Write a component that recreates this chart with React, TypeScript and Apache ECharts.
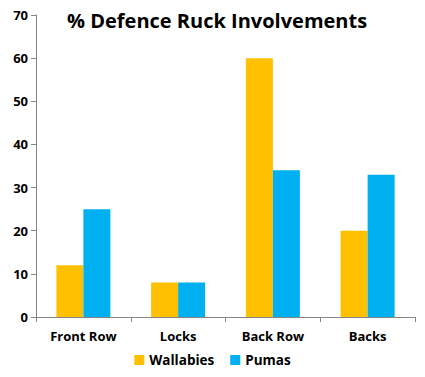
import React, { useEffect, useRef } from "react";
import * as echarts from "echarts";

const categories = ["Front Row", "Locks", "Back Row", "Backs"];
const wallabies = [12, 8, 60, 20];
const pumas = [25, 8, 34, 33];
const yTicks = { min: 0, max: 70, interval: 10 };

export default function App() {
  const ref = useRef<HTMLDivElement>(null);
  useEffect(() => {
    const chart = echarts.init(ref.current!, null, { renderer: "svg" });
    const font = "'Open Sans', 'Noto Sans', sans-serif";
    chart.setOption({
      animation: false,
      backgroundColor: "#fff",
      title: {
        text: "% Defence Ruck Involvements",
        left: 62,
        top: 5,
        textStyle: { fontFamily: font, fontWeight: "bold", fontSize: 20, color: "#000" },
      },
      legend: {
        bottom: 5,
        left: "center",
        itemWidth: 10,
        itemHeight: 10,
        itemGap: 16,
        icon: "rect",
        textStyle: { fontFamily: font, fontWeight: "bold", fontSize: 13.5, color: "#000" },
        data: ["Wallabies", "Pumas"],
      },
      grid: { left: 36, right: 10, top: 15, bottom: 60, containLabel: false },
      xAxis: {
        type: "category",
        data: categories,
        axisLine: { lineStyle: { color: "#868686" } },
        axisTick: { show: true, alignWithLabel: false, length: 5, inside: false, lineStyle: { color: "#868686" } },
        axisLabel: { fontFamily: font, fontWeight: "bold", fontSize: 13, color: "#000", margin: 12 },
      },
      yAxis: {
        type: "value",
        min: yTicks.min,
        max: yTicks.max,
        interval: yTicks.interval,
        axisLine: { show: true, lineStyle: { color: "#868686" } },
        axisTick: { show: true, length: 5, lineStyle: { color: "#868686" } },
        splitLine: { show: false },
        axisLabel: { fontFamily: font, fontWeight: "bold", fontSize: 13, color: "#000", margin: 8 },
      },
      series: [
        {
          name: "Wallabies",
          type: "bar",
          data: wallabies,
          itemStyle: { color: "#FFC000" },
          barGap: "0%",
          barCategoryGap: "43%",
        },
        {
          name: "Pumas",
          type: "bar",
          data: pumas,
          itemStyle: { color: "#00B0F0" },
        },
      ],
    });
    return () => chart.dispose();
  }, []);
  return <div ref={ref} style={{ width: 425, height: 377, position: "absolute", left: 0, top: 0 }} />;
}
